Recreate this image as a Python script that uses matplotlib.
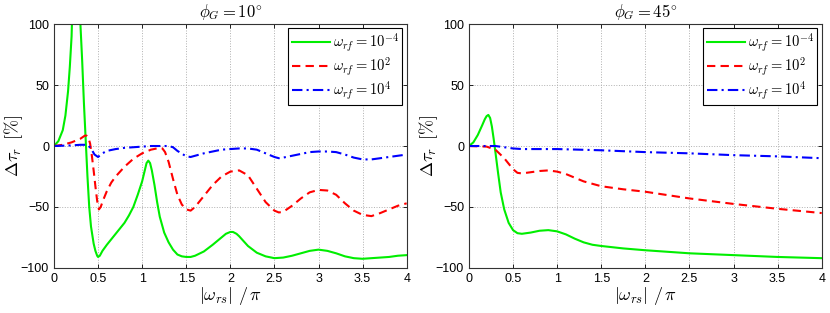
import numpy as np
import matplotlib.pyplot as plt

plt.rcParams['font.family'] = ['Liberation Sans', 'DejaVu Sans']
plt.rcParams['mathtext.fontset'] = 'cm'

# phi_G = 10 deg
x10_g = [0, 0.05, 0.1, 0.13, 0.16, 0.18, 0.2, 0.25, 0.3, 0.32, 0.34, 0.36, 0.38, 0.4, 0.42, 0.45,
         0.47, 0.49, 0.5, 0.52, 0.55, 0.6, 0.7, 0.8, 0.85, 0.9, 0.95, 1.0, 1.03, 1.05, 1.07, 1.09,
         1.11, 1.14, 1.17, 1.2, 1.25, 1.3, 1.35, 1.4, 1.45, 1.5, 1.55, 1.6, 1.7, 1.8, 1.9, 1.95,
         2.0, 2.03, 2.07, 2.1, 2.15, 2.2, 2.3, 2.4, 2.5, 2.6, 2.7, 2.8, 2.9, 3.0, 3.1, 3.2, 3.3,
         3.4, 3.5, 3.6, 3.7, 3.8, 3.9, 4.0]
y10_g = [0, 4, 13, 25, 45, 65, 90, 220, 100, 70, 35, 5, -25, -50, -66, -80,
         -86, -90, -91, -90, -86, -81, -72, -63, -57, -50, -40, -29, -20, -14, -12, -14,
         -20, -32, -46, -58, -71, -79, -85, -89, -90.5, -91, -91, -90, -86.5, -81, -75, -72,
         -70.5, -70.5, -72, -74, -78, -82, -87.5, -90.5, -92, -91.5, -90, -88, -86, -85, -86, -88, -90.5,
         -92, -92.5, -92, -91.5, -91, -90, -89.5]

x10_r = [0, 0.1, 0.2, 0.3, 0.35, 0.37, 0.39, 0.41, 0.43, 0.45, 0.47, 0.49, 0.51, 0.53, 0.56,
         0.6, 0.65, 0.7, 0.8, 0.9, 1.0, 1.1, 1.2, 1.23, 1.26, 1.3, 1.35, 1.4, 1.45, 1.5, 1.55,
         1.6, 1.7, 1.8, 1.9, 2.0, 2.1, 2.2, 2.3, 2.4, 2.5, 2.55, 2.6, 2.7, 2.8, 2.9, 3.0, 3.1,
         3.2, 3.3, 3.4, 3.5, 3.6, 3.7, 3.8, 3.9, 4.0]
y10_r = [0, 1, 3, 6, 8.5, 8.5, 7, 2, -8, -20, -33, -45, -52, -50, -44,
         -37, -30, -25, -17, -10.5, -6, -3, -1.5, -2, -5, -13, -27, -40, -48, -52, -53,
         -50, -41, -32, -25, -21, -20, -24, -35, -46, -53, -54.5, -54, -49, -43, -38, -36, -36.5,
         -40, -47, -53, -56.5, -57.5, -55, -52, -49, -47]

x10_b = [0, 0.2, 0.3, 0.38, 0.42, 0.46, 0.5, 0.55, 0.6, 0.7, 0.8, 0.9, 1.0, 1.1, 1.2, 1.3,
         1.35, 1.4, 1.5, 1.55, 1.6, 1.7, 1.8, 1.9, 2.0, 2.1, 2.2, 2.3, 2.4, 2.5, 2.55, 2.6, 2.7,
         2.8, 2.9, 3.0, 3.1, 3.2, 3.3, 3.4, 3.5, 3.6, 3.7, 3.8, 3.9, 4.0]
y10_b = [0, 0.5, 1, 1, -2, -7, -9, -6, -4, -2.5, -1.5, -1, -0.5, 0, 0, 0,
         -1, -4, -8.5, -9, -8, -6, -4.5, -3, -2.5, -2, -2, -3, -6, -9, -10, -9.5, -8,
         -6.5, -5, -4.5, -4.5, -5, -7, -9.5, -11, -11, -10, -9, -8, -7]

# phi_G = 45 deg
x45_g = [0, 0.05, 0.1, 0.15, 0.18, 0.2, 0.22, 0.24, 0.26, 0.28, 0.3, 0.33, 0.36, 0.4, 0.45,
         0.5, 0.55, 0.6, 0.7, 0.8, 0.9, 1.0, 1.1, 1.2, 1.3, 1.4, 1.5, 1.75, 2.0, 2.5, 3.0, 3.5,
         4.0]
y45_g = [0, 3, 9, 17, 22, 24.5, 25.5, 23, 16, 6, -5, -22, -38, -52, -63,
         -69, -71.5, -72, -71, -69.5, -69, -70, -72.5, -76, -79, -81, -82, -84, -85.5, -88, -89.5, -91,
         -92]

x45_r = [0, 0.2, 0.3, 0.4, 0.5, 0.55, 0.6, 0.7, 0.8, 0.9, 1.0, 1.1, 1.2, 1.3, 1.4, 1.5, 1.75,
         2.0, 2.5, 3.0, 3.5, 4.0]
y45_r = [0, -0.5, -3, -10, -19, -22, -22.5, -21.5, -20.5, -20, -21, -23, -26, -29, -31, -33,
         -35.5, -37.5, -43, -47.5, -51.5, -55]

x45_b = [0, 0.3, 0.4, 0.5, 0.6, 1.0, 1.5, 2.0, 2.5, 3.0, 3.5, 4.0]
y45_b = [0, 0, -1, -2, -2.5, -2.5, -3.5, -5, -6, -7.5, -8.5, -10]

labels = [r'$\omega_{rf}=10^{-4}$', r'$\omega_{rf}=10^{2}$', r'$\omega_{rf}=10^{4}$']
titles = [r'$\phi_G=10^{\circ}$', r'$\phi_G=45^{\circ}$']

fig = plt.figure(figsize=(8.3, 3.13), dpi=100)
ax1 = fig.add_axes([0.065, 0.144, 0.425, 0.779])
ax2 = fig.add_axes([0.565, 0.144, 0.425, 0.779])

data = [(x10_g, y10_g, x10_r, y10_r, x10_b, y10_b),
        (x45_g, y45_g, x45_r, y45_r, x45_b, y45_b)]

for ax, d, t in zip([ax1, ax2], data, titles):
    ax.plot(d[0], d[1], color='#00ee00', lw=1.5, label=labels[0])
    ax.plot(d[2], d[3], color='r', lw=1.5, ls=(0, (4, 2.5)), label=labels[1])
    ax.plot(d[4], d[5], color='b', lw=1.5, ls=(0, (5, 2, 1, 2)), label=labels[2])
    ax.set_xlim(0, 4)
    ax.set_ylim(-100, 100)
    ax.set_xticks(np.arange(0, 4.01, 0.5))
    ax.set_xticklabels(['0', '0.5', '1', '1.5', '2', '2.5', '3', '3.5', '4'])
    ax.set_yticks([-100, -50, 0, 50, 100])
    ax.set_yticklabels(['\u2212100', '\u221250', '0', '50', '100'])
    ax.tick_params(direction='in', top=True, right=True, labelsize=9, length=3, width=0.6)
    ax.grid(True, ls=':', color='#b0b0b0', lw=0.7)
    for s in ax.spines.values():
        s.set_linewidth(0.8)
        s.set_color('#333333')
    ax.set_title(t, fontsize=12, pad=5)
    ax.set_xlabel(r'$|\omega_{rs}|\ /\,\pi$', fontsize=13, labelpad=0)
    ax.set_ylabel(r'$\Delta\tau_r\ \, [\%]$', fontsize=13, labelpad=-3)
    leg = ax.legend(loc='upper right', fontsize=10.5, fancybox=False, framealpha=1,
                    edgecolor='k', borderaxespad=0.3, handlelength=2.6, labelspacing=0.1,
                    handletextpad=0.2, borderpad=0.25)
    leg.get_frame().set_linewidth(0.8)

fig.savefig('out.png', dpi=100)
